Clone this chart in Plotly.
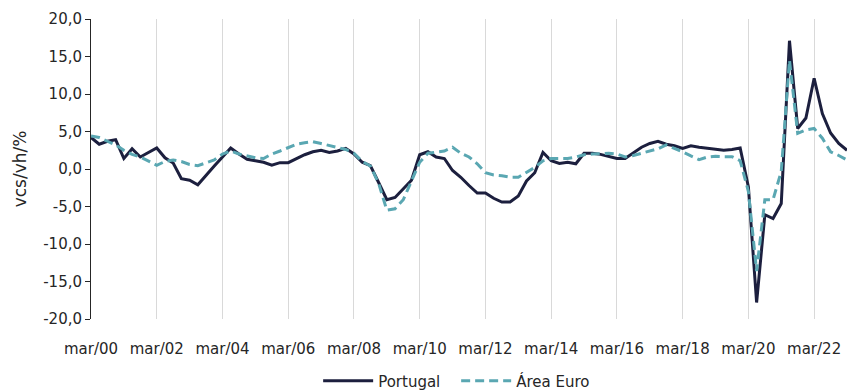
import plotly.graph_objects as go

# Quarterly periods, mar/00 .. mar/23
months = ["mar", "jun", "set", "dez"]
years = list(range(2000, 2024))
quarters = [f"{m}/{y % 100:02d}" for y in years for m in months][:93]

portugal = [
    4.2, 3.3, 3.7, 3.9, 1.4, 2.7, 1.6, 2.2,
    2.8, 1.5, 0.8, -1.3, -1.5, -2.1, -0.8, 0.4,
    1.6, 2.8, 2.0, 1.3, 1.1, 0.9, 0.5, 0.85,
    0.85, 1.4, 1.9, 2.3, 2.5, 2.2, 2.4, 2.75,
    2.0, 0.9, 0.45, -1.8, -4.1, -3.8, -2.7, -1.5,
    1.9, 2.3, 1.6, 1.4, -0.2, -1.1, -2.2, -3.2,
    -3.2, -3.9, -4.4, -4.4, -3.6, -1.6, -0.5, 2.2,
    1.1, 0.75, 0.9, 0.7, 2.1, 2.1, 1.95, 1.65,
    1.4, 1.4, 2.2, 2.9, 3.4, 3.7, 3.3, 3.1,
    2.75, 3.1, 2.9, 2.75, 2.6, 2.5, 2.6, 2.8,
    -2.4, -17.8, -6.1, -6.6, -4.6, 17.1, 5.4, 6.8,
    12.1, 7.4, 4.8, 3.4, 2.5,
]

area_euro = [
    4.4, 4.2, 3.7, 3.2, 2.5, 1.95, 1.6, 1.1,
    0.5, 1.0, 1.2, 1.0, 0.6, 0.45, 0.8, 1.2,
    2.0, 2.4, 2.0, 1.7, 1.5, 1.4, 2.0, 2.4,
    2.9, 3.3, 3.5, 3.65, 3.4, 3.1, 2.8, 2.6,
    2.1, 1.0, 0.4, -1.9, -5.5, -5.3, -4.1, -1.7,
    0.9, 2.1, 2.2, 2.4, 2.9, 2.1, 1.6, 0.7,
    -0.5, -0.8, -0.9, -1.1, -1.1, -0.4, 0.2, 1.1,
    1.4, 1.4, 1.4, 1.6, 1.9, 2.0, 2.1, 2.1,
    2.0, 1.6, 1.8, 2.1, 2.4, 2.7, 3.2, 2.8,
    2.3, 1.75, 1.25, 1.6, 1.7, 1.65, 1.65, 1.1,
    -3.0, -13.6, -4.1, -4.1, -0.3, 14.5, 4.75, 5.2,
    5.4, 4.1, 2.3, 1.8, 1.2,
]

x_tick_labels = ["mar/00", "mar/02", "mar/04", "mar/06", "mar/08", "mar/10",
                 "mar/12", "mar/14", "mar/16", "mar/18", "mar/20", "mar/22"]
y_tick_values = [-20, -15, -10, -5, 0, 5, 10, 15, 20]
y_tick_labels = ["-20,0", "-15,0", "-10,0", "-5,0", "0,0", "5,0", "10,0", "15,0", "20,0"]

fig = go.Figure()
fig.add_trace(go.Scatter(
    x=quarters, y=portugal, name="Portugal", mode="lines",
    line=dict(color="#1C1F3E", width=3),
))
fig.add_trace(go.Scatter(
    x=quarters, y=area_euro, name="Área Euro", mode="lines",
    line=dict(color="#5AA7B2", width=3, dash="9px,5px"),
))

fig.update_layout(
    width=847, height=392,
    margin=dict(l=91, r=0, t=19, b=73),
    plot_bgcolor="white", paper_bgcolor="white",
    font=dict(family="DejaVu Sans", size=15, color="#262626"),
    showlegend=True,
    legend=dict(orientation="h", xref="paper", x=0.483, xanchor="center",
                yref="container", y=0.028, yanchor="middle",
                itemwidth=50, entrywidth=73,
                font=dict(size=15), bgcolor="rgba(0,0,0,0)"),
)
fig.update_xaxes(
    type="category", categoryorder="array", categoryarray=quarters,
    range=[0, len(quarters) - 1],
    tickmode="array", tickvals=x_tick_labels, ticktext=x_tick_labels,
    showgrid=True, gridcolor="#D9D9D9", gridwidth=1,
    showline=False, zeroline=False,
    ticks="outside", ticklen=16, tickcolor="rgba(0,0,0,0)",
    tickfont=dict(size=15),
)
fig.update_yaxes(
    range=[-20, 20],
    tickmode="array", tickvals=y_tick_values, ticktext=y_tick_labels,
    showgrid=False, zeroline=False,
    showline=True, linecolor="#262626", linewidth=1,
    ticks="outside", ticklen=5, tickcolor="#262626",
    tickfont=dict(size=15),
    title=dict(text="vcs/vh/%", standoff=12, font=dict(size=17)),
)

fig.write_html("out.html", config={"displayModeBar": False},
               post_script="document.body.style.margin='0';")
